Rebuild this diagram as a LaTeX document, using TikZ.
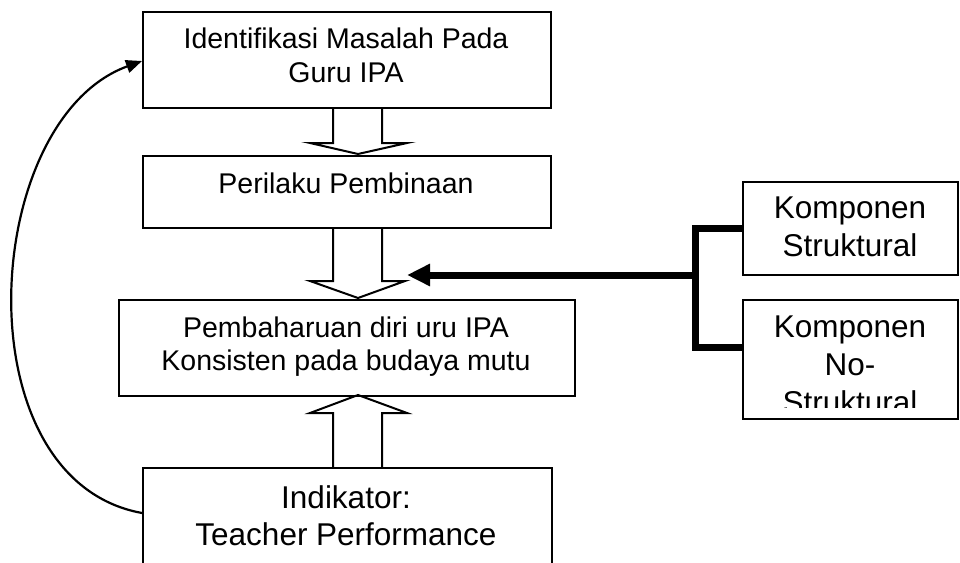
\documentclass[tikz,border=0pt]{standalone}
\usepackage{fontspec}
\setmainfont{Liberation Sans}
\usetikzlibrary{arrows.meta}
\begin{document}
\begin{tikzpicture}[x=1pt,y=-1pt,
  box/.style={draw, line width=2.2pt, rectangle, inner sep=0pt, anchor=north west},
  txt/.style={anchor=base, inner sep=0pt, font=\fontsize{28.5}{34}\selectfont},
  bigtxt/.style={anchor=base, inner sep=0pt, font=\fontsize{31.5}{38}\selectfont},
  hollow/.style={draw, line width=2pt, line join=miter},
  thk/.style={draw, line width=7pt, line join=miter},
  loop/.style={draw, line width=2.2pt, -{Triangle[length=16pt,width=13pt]}}]
\useasboundingbox (0,0) rectangle (960,562);
\clip (0,0) rectangle (960,562);
% boxes
\node[box, minimum width=408pt, minimum height=96pt] (b1) at (142,11) {};
\node[box, minimum width=408pt, minimum height=72pt] (b2) at (142,155) {};
\node[box, minimum width=456pt, minimum height=96pt] (b3) at (118,299) {};
\node[box, minimum width=409pt, minimum height=125pt] (b4) at (142,467) {};
\node[box, minimum width=215pt, minimum height=93pt] (b5) at (742,181) {};
\node[box, minimum width=215pt, minimum height=119pt] (b6) at (742,299) {};
% texts
\node[txt] (t1a) at (346,48) {Identifikasi Masalah Pada};
\node[txt] (t1b) at (346,82) {Guru IPA};
\node[txt] (t2) at (346,193) {Perilaku Pembinaan};
\node[txt] (t3a) at (346,337) {Pembaharuan diri uru IPA};
\node[txt] (t3b) at (346,370) {Konsisten pada budaya mutu};
\node[bigtxt] (t4a) at (346,508) {Indikator:};
\node[bigtxt] (t4b) at (346,545) {Teacher Performance};
\node[bigtxt] (t5a) at (850,218) {Komponen};
\node[bigtxt] (t5b) at (850,256) {Struktural};
\begin{scope}
\clip (742,299) rectangle (957,407);
\node[bigtxt] (t6a) at (850,337) {Komponen};
\node[bigtxt] (t6b) at (850,375) {No-};
\node[bigtxt] (t6c) at (850,413) {Struktural};
\end{scope}
% hollow block arrows
\draw[hollow] (333,107) -- (333,143) -- (310,143) -- (358,154) -- (407,143) -- (382,143) -- (382,107);
\draw[hollow] (333,227) -- (333,281) -- (310,281) -- (358,298) -- (405,281) -- (382,281) -- (382,227);
\draw[hollow] (333,467) -- (333,413) -- (310,413) -- (358,395) -- (407,413) -- (382,413) -- (382,467);
% thick connector from components
\coordinate (jn) at (695,275);
\coordinate (tipc) at (407,275);
\draw[thk] (b5.west) -| (695,347) -- (b6.west |- 695,347);
\draw[thk, -{Triangle[length=23pt,width=21pt]}] (jn) -- (tipc);
% feedback loop
\coordinate (ls) at ([yshift=-46pt]b4.north west);
\coordinate (le) at ([yshift=-50pt]b1.north west);
\draw[loop] (ls) .. controls (-40,480) and (-20,120) .. (le);
\end{tikzpicture}
\end{document}
